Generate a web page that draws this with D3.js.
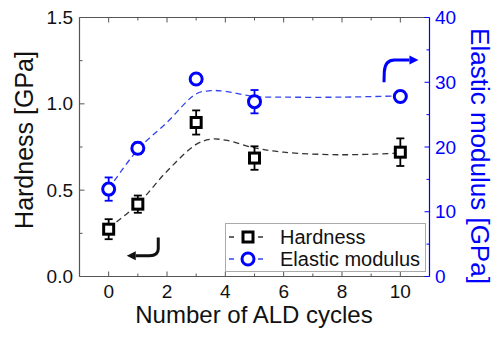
<!DOCTYPE html>
<html>
<head>
<meta charset="utf-8">
<script src="https://cdn.jsdelivr.net/npm/d3@7"></script>
<style>
  html, body { margin: 0; padding: 0; background: #fff; }
  svg { display: block; font-family: "Liberation Sans", Arial, sans-serif; }
</style>
</head>
<body>
<svg id="chart" width="500" height="339"></svg>
<script>
// ALD cycle counts
const cycles = [0, 1, 3, 5, 10];
// Hardness (GPa) with error
const hardness = [0.274, 0.419, 0.892, 0.686, 0.720];
const hardnessErr = [0.058, 0.050, 0.070, 0.068, 0.080];
// Elastic modulus (GPa) with error
const modulus = [13.5, 19.8, 30.5, 27.0, 27.8];
const modulusErr = [1.8, 0.9, 0.8, 1.8, 0.8];
// Trend curves
const hardnessFitX = [0, 1, 2, 3, 3.5, 4, 5, 6, 8, 10];
const hardnessFitY = [0.28, 0.42, 0.61, 0.765, 0.795, 0.79, 0.745, 0.72, 0.705, 0.715];
const modulusFitX = [0, 1, 2, 3, 3.5, 4, 5, 6, 8, 10];
const modulusFitY = [13.5, 19.6, 23.8, 28.2, 28.7, 28.6, 27.8, 27.7, 27.7, 27.9];
// Axis ticks
const xTicks = [0, 2, 4, 6, 8, 10];
const hardnessTicks = [0.0, 0.5, 1.0, 1.5];
const modulusTicks = [0, 10, 20, 30, 40];
// Direction arrows (data units): start, end of straight part, corner, end of bend, tip
const hardnessArrowX = [1.70, 1.70, 1.70, 1.40, 0.62];
const hardnessArrowY = [0.226, 0.160, 0.120, 0.120, 0.120];
const modulusArrowX = [9.44, 9.45, 9.47, 9.80, 10.62];
const modulusArrowY = [30.0, 31.6, 33.45, 33.45, 33.45];

const BLUE = "#0000ff";
const AXIS = "#555";

const svg = d3.select("#chart");
const L = 79.5, R = 429.5, T = 17.5, B = 276.5;

const x = d3.scaleLinear().domain([-1, 11]).range([L, R]);
const yH = d3.scaleLinear().domain([0, 1.5]).range([B, T]);
const yE = d3.scaleLinear().domain([0, 40]).range([B, T]);

// Frame: bottom, left, top in grey; right in blue
svg.append("line").attr("x1", L).attr("x2", R).attr("y1", B).attr("y2", B).attr("stroke", AXIS).attr("stroke-width", 1.2);
svg.append("line").attr("x1", L).attr("x2", R).attr("y1", T).attr("y2", T).attr("stroke", AXIS).attr("stroke-width", 1.2);
svg.append("line").attr("x1", L).attr("x2", L).attr("y1", T).attr("y2", B).attr("stroke", AXIS).attr("stroke-width", 1.2);
svg.append("line").attr("x1", R).attr("x2", R).attr("y1", T).attr("y2", B).attr("stroke", BLUE).attr("stroke-width", 1.2);

// X ticks (inward, bottom and top)
d3.range(0, 11, 1).forEach(v => {
  const len = v % 2 === 0 ? 5 : 3;
  svg.append("line").attr("x1", x(v)).attr("x2", x(v)).attr("y1", B).attr("y2", B - len).attr("stroke", AXIS);
  svg.append("line").attr("x1", x(v)).attr("x2", x(v)).attr("y1", T).attr("y2", T + len).attr("stroke", AXIS);
});
svg.append("g").selectAll("text").data(xTicks).join("text")
  .attr("x", d => x(d)).attr("y", 298)
  .attr("text-anchor", "middle").attr("font-size", 19).attr("fill", "#111")
  .text(d => d);

// Left ticks
d3.range(0, 1.51, 0.25).forEach(v => {
  const len = Math.abs(v * 2 - Math.round(v * 2)) < 1e-6 ? 5 : 3;
  svg.append("line").attr("x1", L).attr("x2", L + len).attr("y1", yH(v)).attr("y2", yH(v)).attr("stroke", AXIS);
});
svg.append("g").selectAll("text").data(hardnessTicks).join("text")
  .attr("x", 73).attr("y", d => yH(d)).attr("dy", "0.35em")
  .attr("text-anchor", "end").attr("font-size", 19).attr("fill", "#111")
  .text(d => d.toFixed(1));

// Right ticks (blue)
d3.range(0, 41, 5).forEach(v => {
  const len = v % 10 === 0 ? 5 : 3;
  svg.append("line").attr("x1", R).attr("x2", R - len).attr("y1", yE(v)).attr("y2", yE(v)).attr("stroke", BLUE);
});
svg.append("g").selectAll("text").data(modulusTicks).join("text")
  .attr("x", 435).attr("y", d => yE(d)).attr("dy", "0.35em")
  .attr("text-anchor", "start").attr("font-size", 19).attr("fill", BLUE)
  .text(d => d);

// Axis titles
svg.append("text").attr("x", 254).attr("y", 323).attr("text-anchor", "middle")
  .attr("font-size", 24).attr("fill", "#111").text("Number of ALD cycles");
svg.append("text").attr("transform", "translate(33,140) rotate(-90)").attr("text-anchor", "middle")
  .attr("font-size", 25).attr("fill", "#111").text("Hardness [GPa]");
svg.append("text").attr("transform", "translate(471,156) rotate(90)").attr("text-anchor", "middle")
  .attr("font-size", 26).attr("fill", BLUE).text("Elastic modulus [GPa]");

// Trend curves
const lineH = d3.line().curve(d3.curveCatmullRom.alpha(0.5)).x(d => x(d[0])).y(d => yH(d[1]));
const lineE = d3.line().curve(d3.curveCatmullRom.alpha(0.5)).x(d => x(d[0])).y(d => yE(d[1]));
svg.append("path").attr("d", lineH(d3.zip(hardnessFitX, hardnessFitY)))
  .attr("fill", "none").attr("stroke", "#333").attr("stroke-width", 1.3).attr("stroke-dasharray", "6,4");
svg.append("path").attr("d", lineE(d3.zip(modulusFitX, modulusFitY)))
  .attr("fill", "none").attr("stroke", "#3344ee").attr("stroke-width", 1.3).attr("stroke-dasharray", "6,4");

// Error bars
function errorBars(vals, errs, y, color) {
  const g = svg.append("g").attr("stroke", color).attr("stroke-width", 1.8);
  cycles.forEach((c, i) => {
    const cx = x(c), y1 = y(vals[i] - errs[i]), y2 = y(vals[i] + errs[i]);
    g.append("line").attr("x1", cx).attr("x2", cx).attr("y1", y1).attr("y2", y2);
    g.append("line").attr("x1", cx - 4).attr("x2", cx + 4).attr("y1", y1).attr("y2", y1);
    g.append("line").attr("x1", cx - 4).attr("x2", cx + 4).attr("y1", y2).attr("y2", y2);
  });
}
errorBars(hardness, hardnessErr, yH, "#000");
errorBars(modulus, modulusErr, yE, BLUE);

// Markers
svg.append("g").selectAll("rect").data(cycles).join("rect")
  .attr("x", d => x(d) - 5).attr("y", (d, i) => yH(hardness[i]) - 5)
  .attr("width", 10).attr("height", 10)
  .attr("fill", "#fff").attr("stroke", "#000").attr("stroke-width", 3);
svg.append("g").selectAll("circle").data(cycles).join("circle")
  .attr("cx", d => x(d)).attr("cy", (d, i) => yE(modulus[i])).attr("r", 6)
  .attr("fill", "#fff").attr("stroke", BLUE).attr("stroke-width", 3);

// Direction arrows: straight run, rounded bend, then arrowhead
function arrow(xs, ys, y, color) {
  const pts = xs.map((v, i) => [x(v), y(ys[i])]);
  const tip = pts[4], prev = pts[3];
  const ang = Math.atan2(tip[1] - prev[1], tip[0] - prev[0]);
  const headLen = 9, headW = 4.5;
  const base = [tip[0] - headLen * Math.cos(ang), tip[1] - headLen * Math.sin(ang)];
  svg.append("path")
    .attr("d", `M${pts[0]}L${pts[1]}Q${pts[2]} ${pts[3]}L${base}`)
    .attr("fill", "none").attr("stroke", color).attr("stroke-width", 3);
  const nx = -Math.sin(ang), ny = Math.cos(ang);
  svg.append("path")
    .attr("d", `M${tip}L${base[0] + nx * headW},${base[1] + ny * headW}L${base[0] - nx * headW},${base[1] - ny * headW}Z`)
    .attr("fill", color);
}
arrow(hardnessArrowX, hardnessArrowY, yH, "#111");
arrow(modulusArrowX, modulusArrowY, yE, BLUE);

// Legend
const lg = svg.append("g");
lg.append("rect").attr("x", 225.5).attr("y", 223.5).attr("width", 200).attr("height", 48)
  .attr("fill", "#fff").attr("stroke", "#aaa").attr("stroke-width", 1);
const legendItems = [
  { label: "Hardness", color: "#000", dash: "#333", shape: "square", y: 237 },
  { label: "Elastic modulus", color: BLUE, dash: "#3344ee", shape: "circle", y: 259 }
];
legendItems.forEach(it => {
  lg.append("line").attr("x1", 229).attr("x2", 268).attr("y1", it.y).attr("y2", it.y)
    .attr("stroke", it.dash).attr("stroke-width", 1.3).attr("stroke-dasharray", "5,24");
  if (it.shape === "square") {
    lg.append("rect").attr("x", 243).attr("y", it.y - 5).attr("width", 10).attr("height", 10)
      .attr("fill", "#fff").attr("stroke", it.color).attr("stroke-width", 3);
  } else {
    lg.append("circle").attr("cx", 248).attr("cy", it.y).attr("r", 6)
      .attr("fill", "#fff").attr("stroke", it.color).attr("stroke-width", 3);
  }
  lg.append("text").attr("x", 280).attr("y", it.y).attr("dy", "0.35em")
    .attr("font-size", 20).attr("fill", "#111").text(it.label);
});
</script>
</body>
</html>
